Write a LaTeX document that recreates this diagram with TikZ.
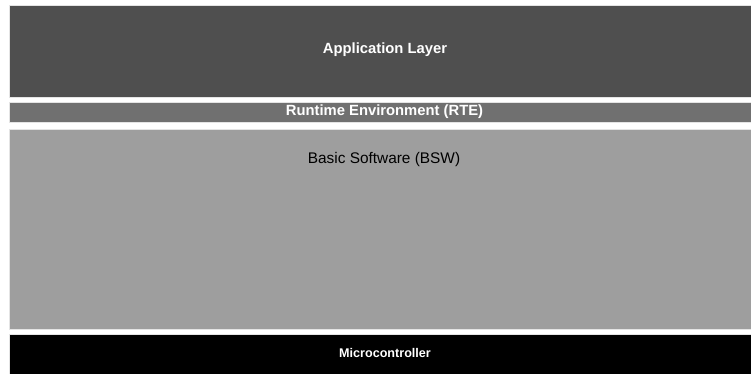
\documentclass[tikz,border=0pt]{standalone}
\usepackage{fontspec}
\setmainfont{Liberation Sans}
\definecolor{appgray}{HTML}{4F4F4F}
\definecolor{rtegray}{HTML}{707070}
\definecolor{bswgray}{HTML}{9E9E9E}
\definecolor{edgegray}{HTML}{E4E4E4}
\begin{document}
\begin{tikzpicture}[x=1pt,y=-1pt,
  layer/.style={draw=edgegray,line width=0.8pt},
  lbl/.style={inner sep=0pt,anchor=center}]
\useasboundingbox (0,0) rectangle (751,373);
\fill[white] (0,0) rectangle (751,373);
\path[layer,fill=appgray] (9,5) rectangle (753,97);
\path[layer,fill=rtegray] (9,102) rectangle (753,122);
\path[layer,fill=bswgray] (9,129) rectangle (753,329);
\path[layer,fill=black] (9,334) rectangle (753,376);
\node[lbl,text=white] (app) at (385,50) {\fontsize{14.8}{16}\selectfont\bfseries Application Layer};
\node[lbl,text=white] (rte) at (384.5,111.5) {\fontsize{14.8}{16}\selectfont\bfseries Runtime Environment (RTE)};
\node[lbl,text=black] (bsw) at (384,159.5) {\fontsize{15.4}{17}\selectfont Basic Software (BSW)};
\node[lbl,text=white] (mcu) at (385,353) {\fontsize{12.6}{14}\selectfont\bfseries Microcontroller};
\end{tikzpicture}
\end{document}
